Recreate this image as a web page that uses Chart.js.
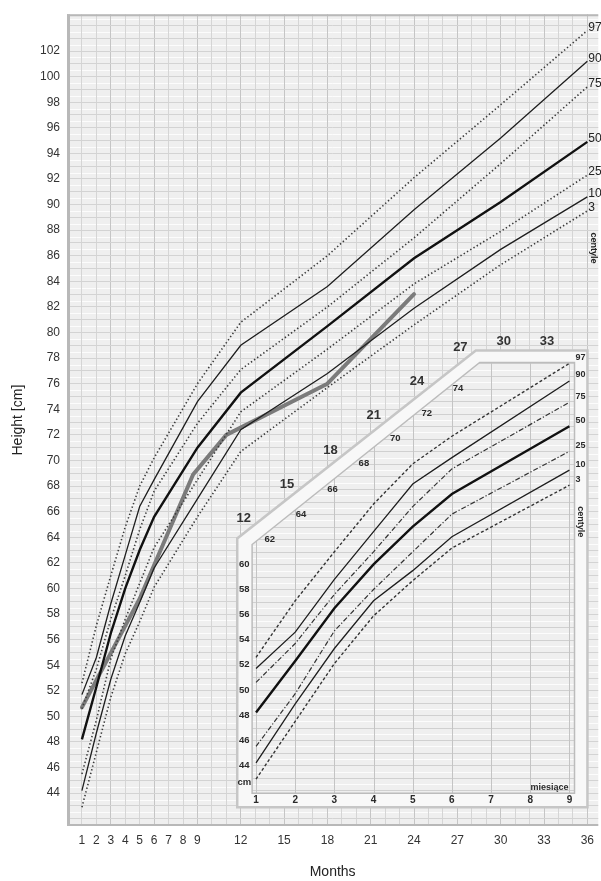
<!DOCTYPE html>
<html>
<head>
<meta charset="utf-8">
<script src="https://cdn.jsdelivr.net/npm/chart.js@4.4.1/dist/chart.umd.min.js"></script>
<style>
  html, body { margin: 0; padding: 0; background: #fff; }
  #wrap { position: relative; width: 601px; height: 881px; }
</style>
</head>
<body>
<div id="wrap"><canvas id="growthChart" width="601" height="881"></canvas></div>
<script>
// centile curves (cm), read at these ages (months)
const months = [1, 2, 3, 4, 5, 6, 9, 12, 18, 24, 30, 36];
const p97 = [52.6, 57.1, 61.0, 64.8, 68.0, 70.2, 76.0, 80.8, 86.0, 92.1, 97.8, 103.6];
const p90 = [51.7, 54.6, 58.8, 62.6, 66.4, 68.5, 74.6, 79.0, 83.6, 89.6, 95.2, 101.2];
const p75 = [50.6, 53.7, 57.6, 61.0, 64.6, 67.6, 72.9, 77.1, 82.0, 87.4, 93.2, 99.2];
const p50 = [48.2, 52.3, 56.5, 60.0, 63.0, 65.6, 71.0, 75.3, 80.5, 85.8, 90.2, 94.9];
const p25 = [45.5, 49.7, 54.5, 57.6, 60.4, 63.2, 68.5, 73.8, 78.7, 83.8, 87.9, 92.3];
const p10 = [44.2, 48.7, 52.9, 56.3, 58.9, 61.6, 67.0, 72.4, 76.8, 81.9, 86.5, 90.6];
const p3  = [42.9, 47.2, 51.5, 54.9, 57.4, 60.1, 65.6, 70.7, 75.7, 80.6, 85.3, 89.5];

// the child's measurements
const childMonths = [1, 5, 8.7, 11, 18, 24];
const childHeights = [50.7, 59.2, 68.9, 72.0, 76.0, 83.0];

// inset: first 9 months, enlarged
const insetMonths = [1, 2, 3, 4, 5, 6, 9];
const i97 = [52.6, 57.1, 61.0, 64.8, 68.0, 70.2, 76.0];
const i90 = [51.7, 54.6, 58.8, 62.6, 66.4, 68.5, 74.6];
const i75 = [50.6, 53.7, 57.6, 61.0, 64.6, 67.6, 72.9];
const i50 = [48.2, 52.3, 56.5, 60.0, 63.0, 65.6, 71.0];
const i25 = [45.5, 49.7, 54.7, 58.0, 61.0, 64.0, 69.0];
const i10 = [44.2, 48.9, 53.3, 57.1, 59.5, 62.2, 67.5];
const i3  = [42.9, 47.5, 52.1, 55.9, 58.7, 61.3, 66.3];

const xTickLabels = [1, 2, 3, 4, 5, 6, 7, 8, 9, 12, 15, 18, 21, 24, 27, 30, 33, 36];
const yTickLabels = [44, 46, 48, 50, 52, 54, 56, 58, 60, 62, 64, 66, 68, 70, 72, 74, 76, 78, 80, 82, 84, 86, 88, 90, 92, 94, 96, 98, 100, 102];
const insetXLabels = [1, 2, 3, 4, 5, 6, 7, 8, 9];
const insetYLabels = [44, 46, 48, 50, 52, 54, 56, 58, 60];
const insetDiagLabels = [62, 64, 66, 68, 70, 72, 74];
const insetOuterMonths = [12, 15, 18, 21, 24, 27, 30, 33];

const centiles = ['97', '90', '75', '50', '25', '10', '3'];
const curves = { '97': p97, '90': p90, '75': p75, '50': p50, '25': p25, '10': p10, '3': p3 };
const insetCurves = { '97': i97, '90': i90, '75': i75, '50': i50, '25': i25, '10': i10, '3': i3 };

const mainStyle = {
  dot:   { borderWidth: 1.6, borderColor: '#3a3a3a', borderDash: [1.4, 2.4] },
  solid: { borderWidth: 1.3, borderColor: '#1e1e1e', borderDash: [] },
  thick: { borderWidth: 2.4, borderColor: '#111', borderDash: [] }
};
const insetStyle = {
  dash:    { borderWidth: 1.4, borderColor: '#333', borderDash: [3, 2.2] },
  dashdot: { borderWidth: 1.2, borderColor: '#333', borderDash: [5, 2, 1.2, 2] },
  solid:   { borderWidth: 1.3, borderColor: '#1e1e1e', borderDash: [] },
  thick:   { borderWidth: 2.4, borderColor: '#111', borderDash: [] }
};
const mainKind = { '97': 'dot', '90': 'solid', '75': 'dot', '50': 'thick', '25': 'dot', '10': 'solid', '3': 'dot' };
const insetKind = { '97': 'dash', '90': 'solid', '75': 'dashdot', '50': 'thick', '25': 'dashdot', '10': 'solid', '3': 'dash' };

// inset frame, in inset units (month, cm)
const insetOuter = [[0.52, 40.67], [0.52, 62.06], [6.61, 77.03], [9.46, 77.03], [9.46, 40.67]];
const insetInner = [[0.90, 41.78], [0.90, 61.58], [6.71, 76.08], [9.13, 76.08], [9.13, 41.78]];

const datasets = [];
centiles.forEach((c) => {
  datasets.push(Object.assign({
    label: 'c' + c,
    data: months.map((m, i) => ({ x: m, y: curves[c][i] })),
    xAxisID: 'x', yAxisID: 'y',
    pointRadius: 0, tension: 0, fill: false
  }, mainStyle[mainKind[c]]));
});
centiles.forEach((c) => {
  datasets.push(Object.assign({
    label: 'inset c' + c,
    data: insetMonths.map((m, i) => ({ x: m, y: insetCurves[c][i] })),
    xAxisID: 'xi', yAxisID: 'yi',
    pointRadius: 0, tension: 0, fill: false
  }, insetStyle[insetKind[c]]));
});
datasets.push({
  label: 'child',
  data: childMonths.map((m, i) => ({ x: m, y: childHeights[i] })),
  xAxisID: 'x', yAxisID: 'y',
  borderColor: '#7b7b7b', borderWidth: 4, pointRadius: 0, tension: 0,
  borderCapStyle: 'round', borderJoinStyle: 'round'
});

function polyPath(ctx, pts, xs, ys) {
  ctx.beginPath();
  pts.forEach((p, i) => {
    const px = xs.getPixelForValue(p[0]), py = ys.getPixelForValue(p[1]);
    if (i === 0) ctx.moveTo(px, py); else ctx.lineTo(px, py);
  });
  ctx.closePath();
}

const paperPlugin = {
  id: 'paper',
  beforeDraw(chart) {
    const { ctx, chartArea: a, scales: { y } } = chart;
    ctx.save();
    ctx.fillStyle = '#efefef';
    ctx.fillRect(a.left, a.top, a.right - a.left, a.bottom - a.top);
    ctx.strokeStyle = 'rgba(255,255,255,0.8)';
    ctx.lineWidth = 1;
    for (let v = 42.5; v < 105; v += 1) {
      const py = Math.round(y.getPixelForValue(v)) + 0.5;
      ctx.beginPath(); ctx.moveTo(a.left, py); ctx.lineTo(a.right, py); ctx.stroke();
    }
    ctx.restore();
  },
  beforeDatasetsDraw(chart) {
    const { ctx, chartArea: a, scales: { xi, yi } } = chart;
    ctx.save();
    // plot frame
    ctx.strokeStyle = '#b8b8b8';
    ctx.lineWidth = 3;
    ctx.beginPath(); ctx.moveTo(a.left + 1.5, a.bottom); ctx.lineTo(a.left + 1.5, a.top); ctx.stroke();
    ctx.lineWidth = 2;
    ctx.beginPath(); ctx.moveTo(a.left, a.top + 1); ctx.lineTo(a.right, a.top + 1); ctx.stroke();
    ctx.beginPath(); ctx.moveTo(a.left, a.bottom - 1); ctx.lineTo(a.right, a.bottom - 1); ctx.stroke();

    // inset box
    polyPath(ctx, insetOuter, xi, yi);
    ctx.fillStyle = '#f8f8f8';
    ctx.fill();
    ctx.strokeStyle = '#c6c6c6';
    ctx.lineWidth = 2.5;
    ctx.stroke();
    polyPath(ctx, insetInner, xi, yi);
    ctx.fillStyle = '#efefef';
    ctx.fill();
    ctx.save();
    ctx.clip();
    const l = xi.getPixelForValue(0.5), r = xi.getPixelForValue(9.5);
    const t = yi.getPixelForValue(77), b = yi.getPixelForValue(41);
    ctx.lineWidth = 1;
    for (let v = 41.5; v < 77; v += 1) {
      const py = Math.round(yi.getPixelForValue(v)) + 0.5;
      ctx.strokeStyle = 'rgba(255,255,255,0.8)';
      ctx.beginPath(); ctx.moveTo(l, py); ctx.lineTo(r, py); ctx.stroke();
    }
    for (let v = 42; v <= 77; v += 1) {
      const py = Math.round(yi.getPixelForValue(v)) + 0.5;
      ctx.strokeStyle = '#d0d0d0';
      ctx.beginPath(); ctx.moveTo(l, py); ctx.lineTo(r, py); ctx.stroke();
    }
    insetXLabels.forEach((m) => {
      const px = Math.round(xi.getPixelForValue(m)) + 0.5;
      ctx.strokeStyle = '#c4c4c4';
      ctx.beginPath(); ctx.moveTo(px, t); ctx.lineTo(px, b); ctx.stroke();
    });
    ctx.restore();
    polyPath(ctx, insetInner, xi, yi);
    ctx.strokeStyle = '#bcbcbc';
    ctx.lineWidth = 1.5;
    ctx.stroke();
    ctx.restore();
  },
  afterDatasetsDraw(chart) {
    const { ctx, scales: { x, y, xi, yi } } = chart;
    ctx.save();
    ctx.fillStyle = '#222';
    ctx.textBaseline = 'middle';

    // centile labels, main chart
    ctx.font = '12px "Liberation Sans", Arial, sans-serif';
    ctx.textAlign = 'left';
    centiles.forEach((c) => {
      const v = curves[c][months.length - 1];
      ctx.fillText(c, x.getPixelForValue(36) + 1, y.getPixelForValue(v) - 3);
    });
    ctx.save();
    ctx.font = 'bold 9px "Liberation Sans", Arial, sans-serif';
    ctx.translate(x.getPixelForValue(36.4), y.getPixelForValue(86.6));
    ctx.rotate(Math.PI / 2);
    ctx.textAlign = 'center';
    ctx.fillText('centyle', 0, 0);
    ctx.restore();

    // inset labels
    ctx.fillStyle = '#2a2a2a';
    ctx.font = 'bold 9.5px "Liberation Sans", Arial, sans-serif';
    ctx.textAlign = 'center';
    insetYLabels.forEach((v) => ctx.fillText(String(v), xi.getPixelForValue(0.7), yi.getPixelForValue(v)));
    ctx.fillText('cm', xi.getPixelForValue(0.7), yi.getPixelForValue(42.65));
    ctx.font = 'bold 10px "Liberation Sans", Arial, sans-serif';
    insetXLabels.forEach((m) => ctx.fillText(String(m), xi.getPixelForValue(m), yi.getPixelForValue(41.2)));
    ctx.font = 'bold 9.5px "Liberation Sans", Arial, sans-serif';
    // labels along the slanted edge
    const [d0, d1] = [insetInner[1], insetInner[2]];
    insetDiagLabels.forEach((v) => {
      const m = d0[0] + (v - d0[1]) * (d1[0] - d0[0]) / (d1[1] - d0[1]);
      ctx.fillText(String(v), xi.getPixelForValue(m) + 11, yi.getPixelForValue(v));
    });
    ctx.textAlign = 'left';
    ctx.font = 'bold 9px "Liberation Sans", Arial, sans-serif';
    centiles.forEach((c) => {
      const v = insetCurves[c][insetMonths.length - 1];
      ctx.fillText(c, xi.getPixelForValue(9) + 6, yi.getPixelForValue(v) - 6);
    });
    ctx.save();
    ctx.translate(xi.getPixelForValue(9.28), yi.getPixelForValue(63.4));
    ctx.rotate(Math.PI / 2);
    ctx.textAlign = 'center';
    ctx.fillText('centyle', 0, 0);
    ctx.restore();
    ctx.textAlign = 'center';
    ctx.fillText('miesiące', xi.getPixelForValue(8.49), yi.getPixelForValue(42.26));

    // month numbers outside the slanted edge
    ctx.font = 'bold 13px "Liberation Sans", Arial, sans-serif';
    ctx.fillStyle = '#333';
    const [o0, o1] = [insetOuter[1], insetOuter[2]];
    const oy0 = yi.getPixelForValue(o0[1]), oy1 = yi.getPixelForValue(o1[1]);
    const ox0 = xi.getPixelForValue(o0[0]), ox1 = xi.getPixelForValue(o1[0]);
    insetOuterMonths.forEach((m) => {
      const px = x.getPixelForValue(m) + 3;
      let py;
      if (px < ox1) py = oy0 + (px - ox0) * (oy1 - oy0) / (ox1 - ox0) - 15;
      else py = oy1 - 9;
      ctx.fillText(String(m), px, py);
    });
    ctx.restore();
  }
};

new Chart(document.getElementById('growthChart'), {
  type: 'line',
  data: { datasets },
  plugins: [paperPlugin],
  options: {
    responsive: false,
    animation: false,
    devicePixelRatio: 1,
    layout: { padding: { top: 10, right: 0, bottom: 0, left: 0 } },
    plugins: { legend: { display: false }, tooltip: { enabled: false } },
    scales: {
      x: {
        type: 'linear',
        min: -0.0335, max: 36.758,
        afterBuildTicks: (s) => { s.ticks = Array.from({ length: 37 }, (_, i) => ({ value: i })); },
        afterFit: (s) => { s.height = 55; },
        ticks: {
          autoSkip: false, maxRotation: 0, padding: 7, color: '#333',
          font: { family: '"Liberation Sans", Arial, sans-serif', size: 12 },
          callback: (v) => (xTickLabels.includes(v) ? String(v) : '')
        },
        grid: {
          drawTicks: false,
          color: (ctx) => (ctx.tick && ctx.tick.value % 3 === 0 ? '#c5c5c5' : '#d5d5d5')
        },
        border: { display: false },
        title: {
          display: true, text: 'Months', color: '#222',
          font: { family: '"Liberation Sans", Arial, sans-serif', size: 14 },
          padding: { top: 0, bottom: 0 }
        }
      },
      y: {
        type: 'linear',
        min: 41.434, max: 104.877,
        afterBuildTicks: (s) => { s.ticks = Array.from({ length: 63 }, (_, i) => ({ value: 42 + i })); },
        afterFit: (s) => { s.width = 67; },
        ticks: {
          autoSkip: false, padding: 7, color: '#333',
          font: { family: '"Liberation Sans", Arial, sans-serif', size: 12 },
          callback: (v) => (yTickLabels.includes(v) ? String(v) : '')
        },
        grid: { drawTicks: false, color: '#d3d3d3' },
        border: { display: false },
        title: {
          display: true, text: 'Height [cm]', color: '#222',
          font: { family: '"Liberation Sans", Arial, sans-serif', size: 14 },
          padding: { top: 10, bottom: 0 }
        }
      },
      xi: { type: 'linear', display: false, min: -3.8254, max: 9.7365 },
      yi: { type: 'linear', display: false, min: 39.168, max: 103.802 }
    }
  }
});
</script>
</body>
</html>
